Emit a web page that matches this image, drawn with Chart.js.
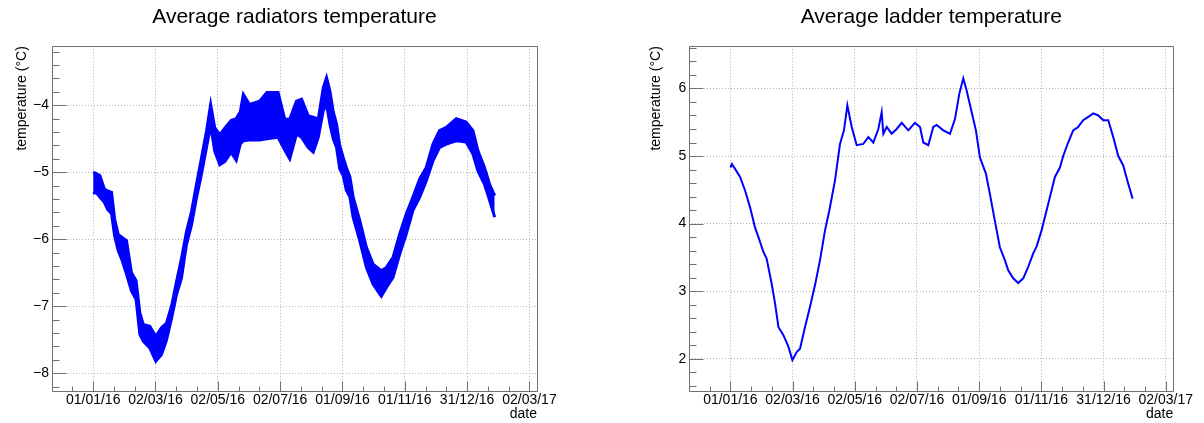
<!DOCTYPE html>
<html>
<head>
<meta charset="utf-8">
<script src="https://cdn.jsdelivr.net/npm/chart.js@4.4.1/dist/chart.umd.min.js"></script>
<style>
  body { margin: 0; background: #fff; }
  #wrap { position: relative; width: 1204px; height: 423px; }
  canvas { position: absolute; top: 0; }
</style>
</head>
<body>
<div id="wrap">
  <canvas id="radiators" width="602" height="423" style="left:0"></canvas>
  <canvas id="ladder" width="602" height="423" style="left:602px"></canvas>
</div>
<script>
// x values are days since 01/01/16
const xTickDays = [0, 61, 122, 183, 244, 305, 366, 427];
const xTickLabels = ["01/01/16", "02/03/16", "02/05/16", "02/07/16", "01/09/16", "01/11/16", "31/12/16", "02/03/17"];

// radiators: noisy band, upper and lower envelope
const radDays = [0, 3, 6.5, 11, 14, 18, 21, 24.5, 28, 32.6, 37.5, 42, 45.7, 49, 55.4, 61.3, 66.9, 71.8, 76.7, 81.5,
  86.4, 91.3, 96.2, 101, 106, 110.9, 115, 119, 124, 129, 135, 140, 144, 147, 153, 163, 170, 181, 187.5, 192.4,
  199, 204, 210.5, 215.4, 220.3, 225.2, 228.4, 231.7, 235, 238.2, 241.3, 244.7, 247.8, 251.3, 254.4, 260.9, 267.4, 273.9, 282, 287,
  293.5, 300, 306.5, 313, 319.6, 326, 332.6, 339, 345.6, 355.4, 365, 371.7, 376.6, 383, 388, 393];
const radUpper = [-5.00, -5.02, -5.05, -5.25, -5.28, -5.30, -5.70, -5.93, -5.97, -6.02, -6.50, -6.62, -7.10, -7.27, -7.30, -7.45, -7.32, -7.25, -7.00, -6.64,
  -6.29, -5.89, -5.59, -5.19, -4.79, -4.39, -3.99, -4.34, -4.44, -4.34, -4.23, -4.20, -4.10, -3.84, -3.99, -3.94, -3.81, -3.81, -4.21, -4.21,
  -3.94, -3.91, -4.16, -4.18, -4.21, -3.74, -3.59, -3.79, -4.10, -4.28, -4.60, -4.78, -4.93, -5.07, -5.37, -5.72, -6.12, -6.37, -6.47, -6.42,
  -6.27, -5.92, -5.62, -5.37, -5.10, -4.93, -4.58, -4.38, -4.33, -4.20, -4.25, -4.38, -4.68, -4.93, -5.18, -5.35];
const radLower = [-5.32, -5.30, -5.37, -5.45, -5.55, -5.62, -5.95, -6.17, -6.30, -6.52, -6.77, -6.90, -7.42, -7.52, -7.62, -7.82, -7.72, -7.50, -7.18, -6.83,
  -6.58, -6.08, -5.79, -5.39, -5.03, -4.63, -4.30, -4.69, -4.89, -4.84, -4.70, -4.82, -4.58, -4.53, -4.52, -4.52, -4.50, -4.48, -4.67, -4.80,
  -4.43, -4.48, -4.63, -4.70, -4.48, -4.08, -3.99, -4.28, -4.50, -4.63, -4.95, -5.05, -5.27, -5.37, -5.67, -6.02, -6.42, -6.67, -6.85, -6.72,
  -6.57, -6.22, -5.92, -5.57, -5.37, -5.13, -4.83, -4.63, -4.58, -4.53, -4.55, -4.73, -4.98, -5.18, -5.42, -5.67];
const radYTicks = [-8, -7, -6, -5, -4];
const radYLabels = ["\u22128", "\u22127", "\u22126", "\u22125", "\u22124"];

// ladder: single line
const ladDays = [0, 1.5, 4.6, 9.5, 14.4, 19.3, 24.2, 27.5, 32.4, 35.6, 40.5, 43.8, 47.1, 52, 56.9, 60.8, 65, 68.3, 73.2, 78.1,
  83, 87.9, 92.8, 97, 102.6, 107.5, 111.4, 114.7, 119, 123.9, 130.4, 135.3, 140.2, 145.1, 148.4, 150, 153.3, 158.2, 163.1, 168,
  174.5, 181, 186, 189.2, 194.1, 199, 202.3, 208.8, 215.4, 220.3, 224.5, 228.4, 231.7, 236.6, 240.8, 244.7, 250.6, 254.5, 259.4, 264.3,
  269.2, 272.5, 277.4, 282.3, 287.2, 292.1, 297, 300.3, 305.2, 311.7, 318.3, 323.2, 326.4, 331.3, 336.2, 341.1, 346, 351, 355.9, 360.8,
  365.7, 370.6, 375.5, 380.4, 385.3, 390.2, 394.5];
const ladTemp = [4.83, 4.88, 4.81, 4.69, 4.49, 4.24, 3.94, 3.80, 3.58, 3.48, 3.11, 2.82, 2.47, 2.35, 2.18, 1.98, 2.10, 2.15, 2.47, 2.77,
  3.09, 3.46, 3.90, 4.19, 4.64, 5.18, 5.38, 5.75, 5.43, 5.16, 5.18, 5.28, 5.20, 5.40, 5.65, 5.33, 5.43, 5.33, 5.40, 5.49,
  5.38, 5.49, 5.43, 5.20, 5.16, 5.43, 5.46, 5.38, 5.33, 5.55, 5.92, 6.15, 5.97, 5.65, 5.38, 4.98, 4.74, 4.44, 4.04, 3.65,
  3.46, 3.31, 3.19, 3.12, 3.19, 3.36, 3.56, 3.66, 3.90, 4.29, 4.69, 4.83, 5.00, 5.20, 5.38, 5.43, 5.53, 5.58, 5.63, 5.60,
  5.53, 5.53, 5.28, 5.00, 4.86, 4.59, 4.37];
const ladYTicks = [2, 3, 4, 5, 6];
const ladYLabels = ["2", "3", "4", "5", "6"];

const FONT = "'Liberation Sans', Arial, Helvetica, sans-serif";
Chart.defaults.font.family = FONT;
Chart.defaults.color = "#000";

// ROOT-like frame with ticks drawn inside the axes
const rootFrame = {
  id: "rootFrame",
  afterDatasetsDraw(chart) {
    const { ctx, chartArea: a, scales: { x, y } } = chart;
    const L = Math.round(a.left) + 0.5, R = Math.round(a.right) + 0.5;
    const T = Math.round(a.top) + 0.5, B = Math.round(a.bottom) + 0.5;
    ctx.save();
    ctx.strokeStyle = "#707070";
    ctx.lineWidth = 1;
    ctx.beginPath();
    ctx.rect(L, T, R - L, B - T);
    const ystep = 0.2;
    for (let k = Math.ceil(y.min / ystep); k * ystep <= y.max; k++) {
      const py = Math.round(y.getPixelForValue(k * ystep)) + 0.5;
      const len = k % 5 === 0 ? 14 : 7;
      ctx.moveTo(L, py);
      ctx.lineTo(L + len, py);
    }
    const xstep = 61 / 3;
    for (let k = Math.ceil(x.min / xstep); k * xstep <= x.max; k++) {
      const px = Math.round(x.getPixelForValue(k * xstep)) + 0.5;
      const len = k % 3 === 0 ? 10 : 5;
      ctx.moveTo(px, B);
      ctx.lineTo(px, B - len);
    }
    ctx.stroke();
    ctx.restore();
  }
};

const pts = (xs, ys) => xs.map((d, i) => ({ x: d, y: ys[i] }));

const makeChart = (id, cfg) => {
  new Chart(document.getElementById(id), {
    type: "line",
    data: { datasets: cfg.datasets },
    plugins: [rootFrame],
    options: {
      responsive: false,
      animation: false,
      layout: { padding: { left: 0, right: cfg.padRight, top: 0, bottom: 0 } },
      elements: { point: { radius: 0 }, line: { tension: 0 } },
      plugins: {
        legend: { display: false },
        tooltip: { enabled: false },
        title: {
          display: true,
          text: cfg.title,
          fullSize: false,
          color: "#000",
          font: { size: 21, weight: "normal" },
          padding: { top: 5, bottom: 16 },
        },
      },
      scales: {
        x: {
          type: "linear",
          min: -40.3,
          max: 434.4,
          afterBuildTicks: (s) => { s.ticks = xTickDays.map((v) => ({ value: v })); },
          afterFit: (s) => { s.height = 32; },
          ticks: {
            callback: (v, i) => xTickLabels[i],
            font: { size: 14 },
            padding: 1,
            maxRotation: 0,
            autoSkip: false,
          },
          grid: { color: "#b4b4b4", drawTicks: false, tickLength: 0 },
          border: { display: false, dash: [1, 2] },
          title: { display: true, text: "date", align: "end", font: { size: 14 }, padding: { top: 0, bottom: 0 } },
        },
        y: {
          type: "linear",
          min: cfg.yMin,
          max: cfg.yMax,
          afterBuildTicks: (s) => { s.ticks = cfg.yTicks.map((v) => ({ value: v })); },
          afterFit: (s) => { s.width = cfg.yWidth; },
          ticks: {
            callback: (v, i) => cfg.yLabels[i],
            font: { size: 14 },
            padding: 3,
          },
          grid: { color: "#b4b4b4", drawTicks: false, tickLength: 0 },
          border: { display: false, dash: [1, 2] },
          title: {
            display: true,
            text: "temperature (\u00b0C)",
            align: "end",
            font: { size: 14 },
            padding: { top: cfg.yTitlePad, bottom: 0 },
          },
        },
      },
    },
  });
};

makeChart("radiators", {
  title: "Average radiators temperature",
  padRight: 65,
  yWidth: 52,
  yTitlePad: 13.6,
  yMin: -8.264,
  yMax: -3.12,
  yTicks: radYTicks,
  yLabels: radYLabels,
  datasets: [
    {
      data: pts(radDays, radUpper),
      borderColor: "#0000ff",
      backgroundColor: "#0000ff",
      borderWidth: 3,
      fill: "+1",
    },
    {
      data: pts(radDays, radLower),
      borderColor: "#0000ff",
      borderWidth: 3,
      fill: false,
    },
  ],
});

makeChart("ladder", {
  title: "Average ladder temperature",
  padRight: 30.7,
  yWidth: 87.3,
  yTitlePad: 45.6,
  yMin: 1.523,
  yMax: 6.625,
  yTicks: ladYTicks,
  yLabels: ladYLabels,
  datasets: [
    {
      data: pts(ladDays, ladTemp),
      borderColor: "#0000ff",
      borderWidth: 2,
      fill: false,
    },
  ],
});
</script>
</body>
</html>
